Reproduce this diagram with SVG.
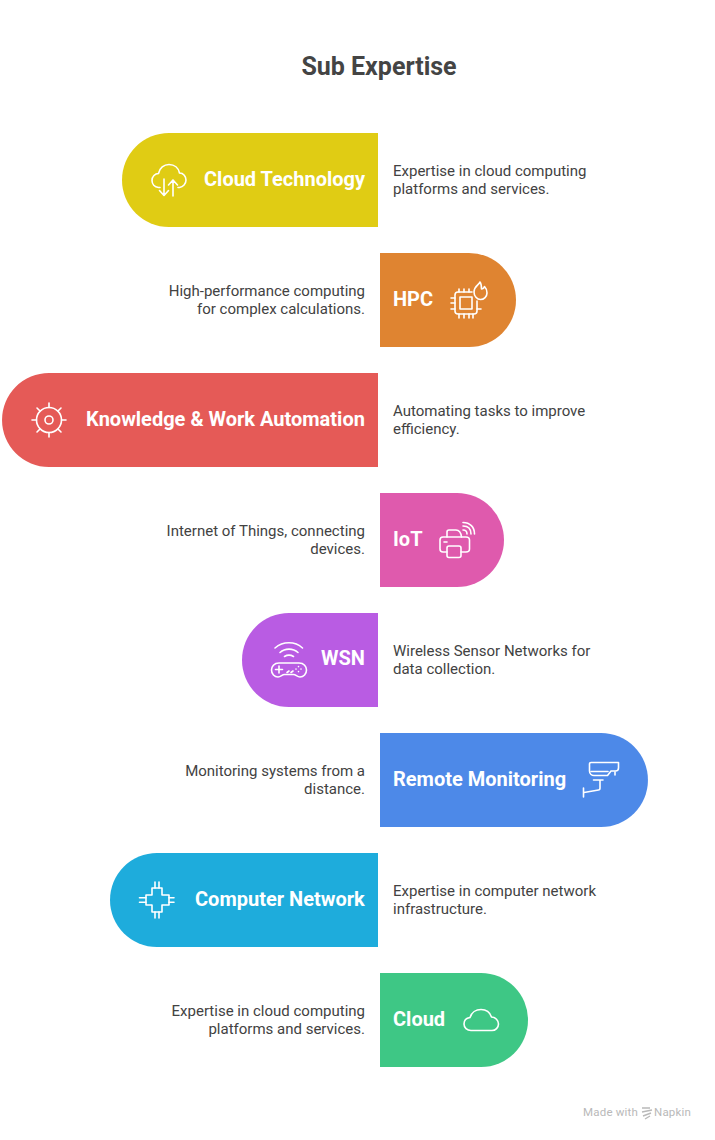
<svg xmlns="http://www.w3.org/2000/svg" width="715" height="1140" viewBox="0 0 715 1140">
<style>
.t{font-family:Roboto,"Liberation Sans",sans-serif;font-size:20px;font-weight:700;fill:#fff}
.d{font-family:Roboto,"Liberation Sans",sans-serif;font-size:15px;fill:#424242}
.e{text-anchor:end}
.i{fill:none;stroke:#fff;stroke-width:1.6;stroke-linecap:round;stroke-linejoin:round}
.m{font-family:Roboto,"Liberation Sans",sans-serif;font-size:11.5px;fill:#b9b9b9;letter-spacing:.2px}
</style>
<rect width="715" height="1140" fill="#fff"/>
<text id="title" x="379" y="75" text-anchor="middle" font-family="Roboto,'Liberation Sans',sans-serif" font-size="25" font-weight="700" fill="#444">Sub Expertise</text>
<g id="connectors"/>
<g id="node-cloud-technology">
<path d="M378 133V227H169A47 47 0 0 1 169 133Z" fill="#E0CC14"/>
<path class="i" d="M160 187.500H158.500C154.500 187 152 184 152 180.500C152 176.500 155 173.500 158.500 173.500C159.500 168 164 164.500 169 164.500C174.500 164.500 178.500 168 179.500 173C183.500 173 186 176.500 186 180C186 184 183 187 179.500 187.500H178"/>
<path class="i" d="M164 179V195M159.500 190.500L164 195.500L168.500 190.500M173 196V180M168.500 185L173 180L177.500 185"/>
<text class="t" x="204" y="186">Cloud Technology</text>
<text class="d" x="393" y="176">Expertise in cloud computing</text>
<text class="d" x="393" y="194">platforms and services.</text>
</g>
<g id="node-hpc">
<path d="M380 253V347H469A47 47 0 0 0 469 253Z" fill="#DF8431"/>
<text class="t" x="393" y="306">HPC</text>
<path class="i" d="M472 292H458Q455 292 455 295V311Q455 314 458 314H474Q477 314 477 311V301"/>
<rect class="i" x="460" y="297" width="12" height="12"/>
<path class="i" d="M459 292V289M464 292V289M469 292V289M459 314V318M464 314V318M469 314V318M473 314V318M455 298H451M455 303H451M455 309H451M477 309H481"/>
<path class="i" d="M480 282C479 285 474 286 474 292C474 296 477 299.500 480.500 299.500C484 299.500 487 296.500 487 293C487 290 486 288 484.500 286.500C484 288 483 289 481.500 289C481.500 287 481.500 284 480 282Z"/>
<text class="d e" x="365" y="296">High-performance computing</text>
<text class="d e" x="365" y="314">for complex calculations.</text>
</g>
<g id="node-knowledge">
<path d="M378 373V467H49A47 47 0 0 1 49 373Z" fill="#E55A57"/>
<circle class="i" cx="49" cy="420" r="12.500"/>
<circle class="i" cx="49" cy="420" r="4"/>
<path class="i" d="M49 403V407.500M49 432.500V437M32 420H36.500M61.500 420H66M37 408L40 411M61 408L58 411M37 432L40 429M61 432L58 429"/>
<text class="t" x="86" y="426">Knowledge &amp; Work Automation</text>
<text class="d" x="393" y="416">Automating tasks to improve</text>
<text class="d" x="393" y="434">efficiency.</text>
</g>
<g id="node-iot">
<path d="M380 493V587H457A47 47 0 0 0 457 493Z" fill="#DF5AAD"/>
<text class="t" x="393" y="546">IoT</text>
<path class="i" d="M447 552H443C441 552 440 551 440 549V540C440 538 441.500 537 443 537H466C468 537 469.500 538 469.500 540V549C469.500 551 468 552 466 552H461"/>
<path class="i" d="M447 537V532C447 531 448 530 449 530H456C459 530 461 533 461.500 537"/>
<rect class="i" x="447" y="546" width="14" height="11.500" rx="2"/>
<path class="i" d="M444 542H447"/>
<path class="i" d="M463 530C465.500 530 467 531.500 467 534M463 526C468 526 471 529 471 534M463 522.500C470 522.500 474.500 527 474.500 534"/>
<text class="d e" x="365" y="536">Internet of Things, connecting</text>
<text class="d e" x="365" y="554">devices.</text>
</g>
<g id="node-wsn">
<path d="M378 613V707H289A47 47 0 0 1 289 613Z" fill="#B95CE3"/>
<path class="i" d="M275 648C283 641 295 641 302.500 648M280 652.500C285 648 293 648 298 652.500M284.500 656.500C287 655 291 655 293.500 656.500"/>
<path class="i" d="M279 663H299C304 663 306.500 666.500 306.500 670C306.500 674 303.500 677 300 677C297 677 296 674.500 293.500 674.500H284.500C282 674.500 281 677 278 677C274.500 677 271.500 674 271.500 670C271.500 666.500 274 663 279 663Z"/>
<path class="i" d="M275.500 669.500H282.500M279 666V673M287 672.500L289 671M291 672.500L293 671M298.500 666.500V666.600M301 669V669.100M296 669V669.100M298.500 671.500V671.600"/>
<text class="t" x="321" y="665">WSN</text>
<text class="d" x="393" y="656">Wireless Sensor Networks for</text>
<text class="d" x="393" y="674">data collection.</text>
</g>
<g id="node-remote">
<path d="M380 733V827H601A47 47 0 0 0 601 733Z" fill="#4D89E8"/>
<text class="t" x="393" y="786">Remote Monitoring</text>
<path class="i" d="M591 762.500H618.500V768C618.500 770 617 771 615.500 771H611L607.500 775.500H594C592 775.500 589.500 774 589.500 771V764C589.500 763 590 762.500 591 762.500Z"/>
<path class="i" d="M591 771.500H608M615 772V775M593.500 780H603M600 780V788C600 789 599.500 790 598.500 790L584 792.500M583.500 788V797"/>
<text class="d e" x="365" y="776">Monitoring systems from a</text>
<text class="d e" x="365" y="794">distance.</text>
</g>
<g id="node-network">
<path d="M378 853V947H157A47 47 0 0 1 157 853Z" fill="#1EACDC"/>
<path class="i" d="M152 888H162V895H169V905H162V912H152V905H146V895H152Z"/>
<path class="i" d="M155 888V882M159 888V882M155 912V918M159 912V918M146 897.700H139.500M146 902.300H139.500M169 897.700H174M169 902.300H174"/>
<text class="t" x="195" y="906">Computer Network</text>
<text class="d" x="393" y="896">Expertise in computer network</text>
<text class="d" x="393" y="914">infrastructure.</text>
</g>
<g id="node-cloud">
<path d="M380 973V1067H481A47 47 0 0 0 481 973Z" fill="#3EC785"/>
<text class="t" x="393" y="1026">Cloud</text>
<path class="i" d="M471 1030.500C467 1030.500 464 1027.500 464 1024C464 1020.500 466.500 1018 470 1017.500C471.500 1012.500 476 1009.500 481 1009.500C486 1009.500 490 1012.500 491.500 1017C495.500 1017 498.500 1020.500 498.500 1024C498.500 1027.500 495.500 1030.500 492 1030.500Z"/>
<text class="d e" x="365" y="1016">Expertise in cloud computing</text>
<text class="d e" x="365" y="1034">platforms and services.</text>
</g>
<g id="watermark">
<text class="m" x="583" y="1116">Made with</text>
<path d="M642 1108H650M642 1112L652 1110M643 1116L651 1113M645 1119L650 1116" fill="none" stroke="#b9b9b9" stroke-width="1.400"/>
<text class="m" x="654" y="1116">Napkin</text>
</g>
</svg>
